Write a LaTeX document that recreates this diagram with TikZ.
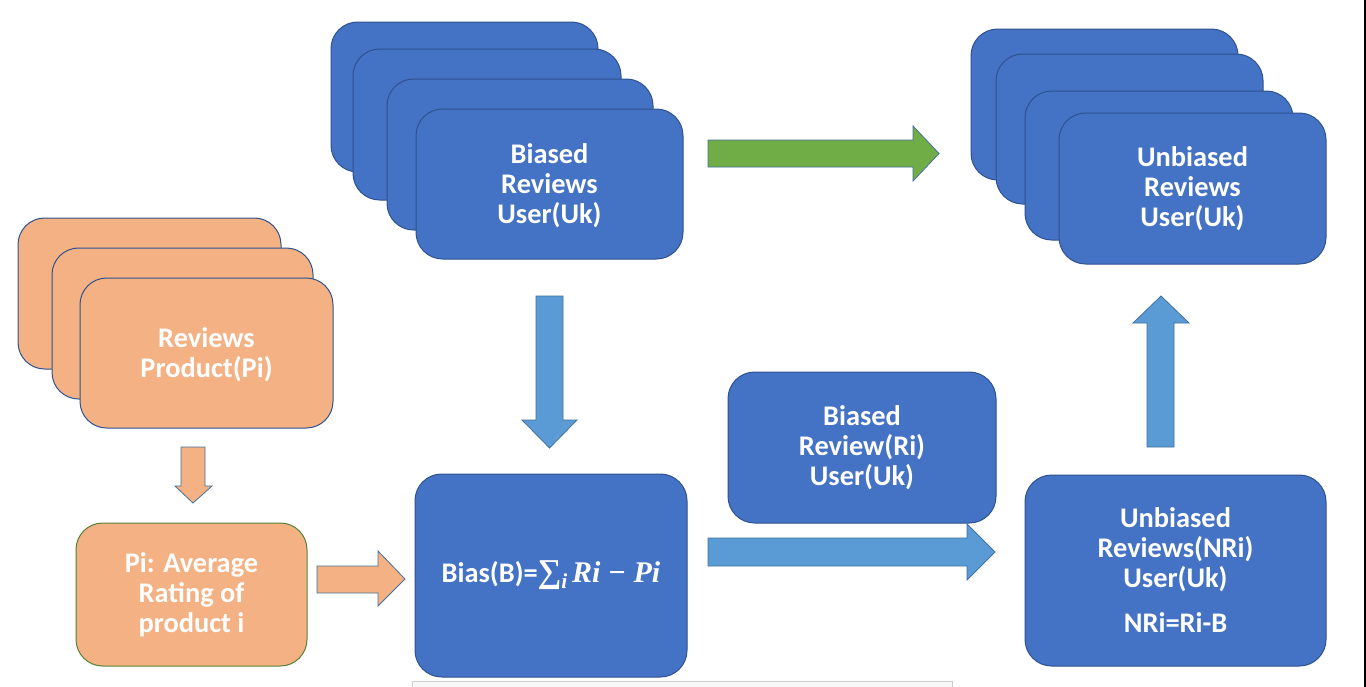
\documentclass[tikz,border=0pt]{standalone}
\usepackage{fontspec}
\setmainfont{Carlito}
\newfontfamily\mathlike{Liberation Serif}
\usetikzlibrary{fit}
\definecolor{boxblue}{HTML}{4472C4}
\definecolor{edgeblue}{HTML}{2F528F}
\definecolor{arrowedge}{HTML}{41719C}
\definecolor{lightblue}{HTML}{5B9BD5}
\definecolor{boxorange}{HTML}{F4B183}
\definecolor{boxgreen}{HTML}{548235}
\definecolor{arrowgreen}{HTML}{70AD47}
\begin{document}
\begin{tikzpicture}[x=0.75pt,y=-0.75pt,
  card/.style={draw=edgeblue, line width=0.75pt, rounded corners=20pt, inner sep=0pt},
  bluecard/.style={card, fill=boxblue},
  orangecard/.style={card, fill=boxorange},
  greencard/.style={card, fill=boxorange, draw=boxgreen},
  cardtext/.style={inner sep=0pt, text=white, align=center, yshift=-1pt,
    font=\bfseries\fontsize{21.3}{22.5}\selectfont},
  blockarrow/.style={draw=arrowedge, line width=0.6pt, line join=miter}]
\useasboundingbox (0,0) rectangle (1366,686);
\clip (0,0) rectangle (1366,686);
\fill[white] (0,0) rectangle (1366,686);

% bottom grey strip and right border line
\draw[draw=black!20, fill=black!3, line width=0.75pt] (412,681) rectangle (952,700);
\draw[black, line width=1.5pt] (1364.8,-2) -- (1364.8,690);

% biased reviews stack
\node[bluecard, fit={(331,22)(598,172)}] (b1) {};
\node[bluecard, fit={(353,49)(621,200)}] (b2) {};
\node[bluecard, fit={(387,79)(653,230)}] (b3) {};
\node[bluecard, fit={(416,109)(683,259)}] (b4) {};
\node[cardtext] (b4t) at (b4.center) {Biased\\Reviews\\User(Uk)};

% unbiased reviews stack
\node[bluecard, fit={(971,29)(1238,180)}] (u1) {};
\node[bluecard, fit={(996,54)(1263,204)}] (u2) {};
\node[bluecard, fit={(1025,91)(1293,240)}] (u3) {};
\node[bluecard, fit={(1059,113)(1326,264)}] (u4) {};
\node[cardtext] (u4t) at ([yshift=1pt]u4.center) {Unbiased\\Reviews\\User(Uk)};

% product reviews stack
\node[orangecard, fit={(18,218)(281,369)}] (p1) {};
\node[orangecard, fit={(52,248)(313,399)}] (p2) {};
\node[orangecard, fit={(80,278)(333,428)}] (p3) {};
\node[cardtext] (p3t) at (p3.center) {Reviews\\Product(Pi)};

% average rating
\node[greencard, fit={(76,523)(307,666)}] (avg) {};
\node[cardtext] (avgt) at ([yshift=1pt]avg.center) {Pi: Average\\Rating of\\product i};

% bias formula
\node[bluecard, fit={(415,474)(687,677)}] (bias) {};
\node[cardtext, yshift=1.5pt] (biast) at (bias.center)
  {Bias(B)={\mathlike\bfseries{\fontsize{25}{25}\selectfont ∑}\raisebox{-0.45ex}{\itshape\fontsize{16}{16}\selectfont i}\,\itshape\fontsize{22.5}{22.5}\selectfont Ri − Pi}};

% biased review
\node[bluecard, fit={(728,372)(996,523)}] (ri) {};
\node[cardtext] (rit) at ([yshift=1pt]ri.center) {Biased\\Review(Ri)\\User(Uk)};

% unbiased NRi
\node[bluecard, fit={(1025,475)(1326,666)}] (nri) {};
\node[cardtext, yshift=1.5pt] (nrit) at (nri.center) {Unbiased\\Reviews(NRi)\\User(Uk)\\[11pt]NRi=Ri-B};

% green arrow
\draw[blockarrow, fill=arrowgreen] (708,140) -- (913,140) -- (913,126) -- (939,153.5)
  -- (913,181) -- (913,167) -- (708,167) -- cycle;
% down arrow from biased stack to bias
\draw[blockarrow, fill=lightblue] (536,296) -- (563,296) -- (563,420) -- (577,420)
  -- (549.5,448) -- (522,420) -- (536,420) -- cycle;
% right arrow bias -> nri
\draw[blockarrow, fill=lightblue] (708,538) -- (967,538) -- (967,524) -- (995,552)
  -- (967,580) -- (967,566) -- (708,566) -- cycle;
% up arrow nri -> unbiased stack
\draw[blockarrow, fill=lightblue] (1147,447) -- (1147,323) -- (1133,323) -- (1161,296)
  -- (1189,323) -- (1174,323) -- (1174,447) -- cycle;
% orange down arrow
\draw[blockarrow, fill=boxorange] (181,447) -- (205,447) -- (205,486) -- (212,486)
  -- (193,503) -- (175,486) -- (181,486) -- cycle;
% orange right arrow
\draw[blockarrow, fill=boxorange] (317,566) -- (378,566) -- (378,551) -- (405,579)
  -- (378,606) -- (378,593) -- (317,593) -- cycle;
\end{tikzpicture}
\end{document}
